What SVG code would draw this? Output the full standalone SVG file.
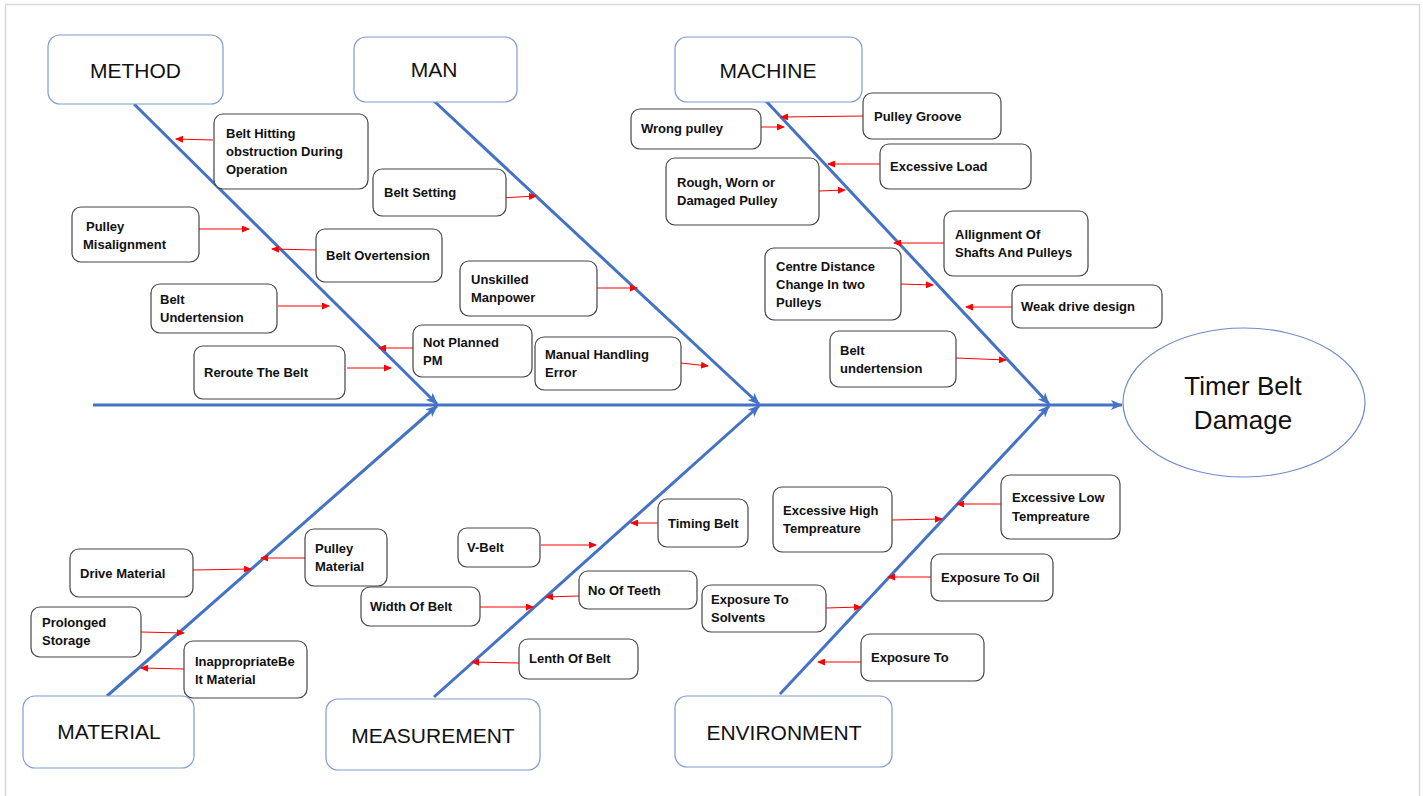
<svg xmlns="http://www.w3.org/2000/svg" width="1423" height="796" viewBox="0 0 1423 796">
<defs>
<style>
.cat{fill:#fff;stroke:#7F9AD2;stroke-width:1.2}
.cattxt{font-family:"Liberation Sans",Arial,sans-serif;font-size:21px;fill:#111;text-anchor:middle}
.box{fill:#fff;stroke:#444;stroke-width:1.2}
.t{font-family:"Liberation Sans",Arial,sans-serif;font-size:13px;font-weight:bold;fill:#111}
.bone{stroke:#4472C4;stroke-width:3;fill:none;marker-end:url(#blue)}
.ra{stroke:#FF0000;stroke-width:1;fill:none;marker-end:url(#red)}
</style>
<marker id="blue" markerUnits="userSpaceOnUse" markerWidth="12" markerHeight="10" refX="11" refY="5" orient="auto">
<path d="M0,0 L12,5 L0,10 L3,5 z" fill="#4472C4"/>
</marker>
<marker id="red" markerUnits="userSpaceOnUse" markerWidth="8" markerHeight="7" refX="7" refY="3.5" orient="auto">
<path d="M0,0 L8,3.5 L0,7 z" fill="#FF0000"/>
</marker>
</defs>
<rect width="1423" height="796" fill="#fff"/>
<path d="M5.5,796 V4.5 H1419.5 V796" fill="none" stroke="#D9D9D9" stroke-width="1.5"/>

<g id="connectors">
<line class="bone" x1="93" y1="405" x2="1122" y2="405"/>
<line class="bone" x1="134" y1="104" x2="437" y2="404"/>
<line class="bone" x1="434" y1="101" x2="759" y2="404"/>
<line class="bone" x1="766" y1="101" x2="1049" y2="404"/>
<line class="bone" x1="107" y1="696" x2="437" y2="406"/>
<line class="bone" x1="434" y1="697" x2="759" y2="406"/>
<line class="bone" x1="780" y1="694" x2="1049" y2="406"/>
<!-- method -->
<line class="ra" x1="213" y1="140" x2="176" y2="139"/>
<line class="ra" x1="199" y1="229" x2="249" y2="229"/>
<line class="ra" x1="316" y1="250" x2="272" y2="249"/>
<line class="ra" x1="278" y1="306" x2="329" y2="306"/>
<line class="ra" x1="413" y1="348" x2="379" y2="348"/>
<line class="ra" x1="347" y1="368" x2="391" y2="368"/>
<!-- man -->
<line class="ra" x1="500" y1="198" x2="536" y2="196"/>
<line class="ra" x1="597" y1="288" x2="637" y2="288"/>
<line class="ra" x1="681" y1="363" x2="708" y2="366"/>
<!-- machine -->
<line class="ra" x1="760" y1="127" x2="784" y2="127"/>
<line class="ra" x1="863" y1="116" x2="781" y2="117"/>
<line class="ra" x1="880" y1="164" x2="828" y2="164"/>
<line class="ra" x1="819" y1="191" x2="845" y2="190"/>
<line class="ra" x1="944" y1="243" x2="894" y2="243"/>
<line class="ra" x1="901" y1="284" x2="933" y2="285"/>
<line class="ra" x1="1012" y1="307" x2="966" y2="307"/>
<line class="ra" x1="956" y1="358" x2="1006" y2="360"/>
<!-- material -->
<line class="ra" x1="193" y1="570" x2="251" y2="569"/>
<line class="ra" x1="305" y1="558" x2="261" y2="558"/>
<line class="ra" x1="141" y1="632" x2="184" y2="633"/>
<line class="ra" x1="184" y1="669" x2="141" y2="668"/>
<!-- measurement -->
<line class="ra" x1="658" y1="523" x2="631" y2="523"/>
<line class="ra" x1="541" y1="545" x2="596" y2="545"/>
<line class="ra" x1="579" y1="596" x2="546" y2="597"/>
<line class="ra" x1="480" y1="607" x2="533" y2="607"/>
<line class="ra" x1="519" y1="663" x2="472" y2="662"/>
<!-- environment -->
<line class="ra" x1="892" y1="520" x2="942" y2="519"/>
<line class="ra" x1="1001" y1="504" x2="957" y2="504"/>
<line class="ra" x1="931" y1="577" x2="888" y2="577"/>
<line class="ra" x1="826" y1="608" x2="861" y2="607"/>
<line class="ra" x1="861" y1="662" x2="818" y2="662"/>
</g>

<g id="effect">
<ellipse cx="1244" cy="402.5" rx="121" ry="74.5" fill="#fff" stroke="#6F8CC8" stroke-width="1.2"/>
<text class="cattxt" style="font-size:26px" x="1243" y="395">Timer Belt</text>
<text class="cattxt" style="font-size:26px" x="1243" y="429">Damage</text>
</g>

<g id="cat-method"><rect class="cat" x="48" y="35" width="175" height="69" rx="12"/><text class="cattxt" x="135.5" y="78">METHOD</text></g>
<g id="cat-man"><rect class="cat" x="354" y="37" width="163" height="65" rx="12"/><text class="cattxt" x="434" y="77">MAN</text></g>
<g id="cat-machine"><rect class="cat" x="675" y="37" width="187" height="65" rx="12"/><text class="cattxt" x="768" y="78">MACHINE</text></g>
<g id="cat-material"><rect class="cat" x="23" y="696" width="171" height="72" rx="12"/><text class="cattxt" x="109" y="739">MATERIAL</text></g>
<g id="cat-measurement"><rect class="cat" x="326" y="699" width="214" height="71" rx="12"/><text class="cattxt" x="433" y="743">MEASUREMENT</text></g>
<g id="cat-environment"><rect class="cat" x="675" y="696" width="217" height="71" rx="12"/><text class="cattxt" x="784" y="740">ENVIRONMENT</text></g>

<g id="c-belt-hitting"><rect class="box" x="214" y="114" width="154" height="75" rx="9"/><text class="t" x="226" y="138">Belt Hitting</text><text class="t" x="226" y="156">obstruction During</text><text class="t" x="226" y="174">Operation</text></g>
<g id="c-pulley-misalignment"><rect class="box" x="72" y="207" width="127" height="55" rx="9"/><text class="t" x="86" y="231">Pulley</text><text class="t" x="83" y="249">Misalignment</text></g>
<g id="c-belt-overtension"><rect class="box" x="316" y="229" width="126" height="53" rx="9"/><text class="t" x="326" y="260">Belt Overtension</text></g>
<g id="c-belt-undertension-1"><rect class="box" x="151" y="284" width="126" height="49" rx="9"/><text class="t" x="160" y="304">Belt</text><text class="t" x="160" y="322">Undertension</text></g>
<g id="c-not-planned"><rect class="box" x="413" y="325" width="119" height="52" rx="9"/><text class="t" x="423" y="347">Not Planned</text><text class="t" x="423" y="365">PM</text></g>
<g id="c-reroute"><rect class="box" x="194" y="346" width="151" height="53" rx="9"/><text class="t" x="204" y="377">Reroute The Belt</text></g>

<g id="c-belt-setting"><rect class="box" x="373" y="169" width="133" height="47" rx="9"/><text class="t" x="384" y="197">Belt Setting</text></g>
<g id="c-unskilled"><rect class="box" x="460" y="261" width="137" height="55" rx="9"/><text class="t" x="471" y="284">Unskilled</text><text class="t" x="471" y="302">Manpower</text></g>
<g id="c-manual-handling"><rect class="box" x="535" y="337" width="146" height="53" rx="9"/><text class="t" x="545" y="359">Manual Handling</text><text class="t" x="545" y="377">Error</text></g>

<g id="c-wrong-pulley"><rect class="box" x="631" y="109" width="130" height="40" rx="9"/><text class="t" x="641" y="133">Wrong pulley</text></g>
<g id="c-pulley-groove"><rect class="box" x="863" y="93" width="138" height="46" rx="9"/><text class="t" x="874" y="121">Pulley Groove</text></g>
<g id="c-excessive-load"><rect class="box" x="880" y="144" width="151" height="45" rx="9"/><text class="t" x="890" y="171">Excessive Load</text></g>
<g id="c-rough"><rect class="box" x="666" y="158" width="153" height="67" rx="9"/><text class="t" x="677" y="187">Rough, Worn or</text><text class="t" x="677" y="205">Damaged Pulley</text></g>
<g id="c-allignment"><rect class="box" x="944" y="211" width="144" height="65" rx="9"/><text class="t" x="955" y="239">Allignment Of</text><text class="t" x="955" y="257">Shafts And Pulleys</text></g>
<g id="c-centre-distance"><rect class="box" x="765" y="248" width="136" height="72" rx="9"/><text class="t" x="776" y="271">Centre Distance</text><text class="t" x="776" y="289">Change In two</text><text class="t" x="776" y="307">Pulleys</text></g>
<g id="c-weak-drive"><rect class="box" x="1012" y="285" width="150" height="43" rx="9"/><text class="t" x="1021" y="311">Weak drive design</text></g>
<g id="c-belt-undertension-2"><rect class="box" x="830" y="331" width="126" height="56" rx="9"/><text class="t" x="840" y="355">Belt</text><text class="t" x="840" y="373">undertension</text></g>

<g id="c-drive-material"><rect class="box" x="70" y="549" width="123" height="48" rx="9"/><text class="t" x="80" y="578">Drive Material</text></g>
<g id="c-pulley-material"><rect class="box" x="305" y="529" width="82" height="57" rx="9"/><text class="t" x="315" y="553">Pulley</text><text class="t" x="315" y="571">Material</text></g>
<g id="c-prolonged"><rect class="box" x="31" y="607" width="110" height="50" rx="9"/><text class="t" x="42" y="627">Prolonged</text><text class="t" x="42" y="645">Storage</text></g>
<g id="c-inappropriate"><rect class="box" x="184" y="641" width="123" height="57" rx="9"/><text class="t" x="195" y="666">InappropriateBe</text><text class="t" x="195" y="684">lt Material</text></g>

<g id="c-timing-belt"><rect class="box" x="658" y="499" width="90" height="48" rx="9"/><text class="t" x="668" y="528">Timing Belt</text></g>
<g id="c-v-belt"><rect class="box" x="458" y="528" width="82" height="39" rx="9"/><text class="t" x="467" y="552">V-Belt</text></g>
<g id="c-no-of-teeth"><rect class="box" x="579" y="571" width="118" height="38" rx="9"/><text class="t" x="588" y="595">No Of Teeth</text></g>
<g id="c-width-of-belt"><rect class="box" x="361" y="587" width="119" height="39" rx="9"/><text class="t" x="370" y="611">Width Of Belt</text></g>
<g id="c-lenth-of-belt"><rect class="box" x="519" y="639" width="119" height="40" rx="9"/><text class="t" x="529" y="663">Lenth Of Belt</text></g>

<g id="c-excessive-high"><rect class="box" x="773" y="487" width="119" height="65" rx="9"/><text class="t" x="783" y="515">Excessive High</text><text class="t" x="783" y="533">Tempreature</text></g>
<g id="c-excessive-low"><rect class="box" x="1001" y="475" width="119" height="64" rx="9"/><text class="t" x="1012" y="502">Excessive Low</text><text class="t" x="1012" y="521">Tempreature</text></g>
<g id="c-exposure-oil"><rect class="box" x="931" y="554" width="122" height="47" rx="9"/><text class="t" x="941" y="582">Exposure To Oil</text></g>
<g id="c-exposure-solvents"><rect class="box" x="702" y="585" width="124" height="47" rx="9"/><text class="t" x="711" y="604">Exposure To</text><text class="t" x="711" y="622">Solvents</text></g>
<g id="c-exposure-to"><rect class="box" x="861" y="634" width="123" height="47" rx="9"/><text class="t" x="871" y="662">Exposure To</text></g>
</svg>
